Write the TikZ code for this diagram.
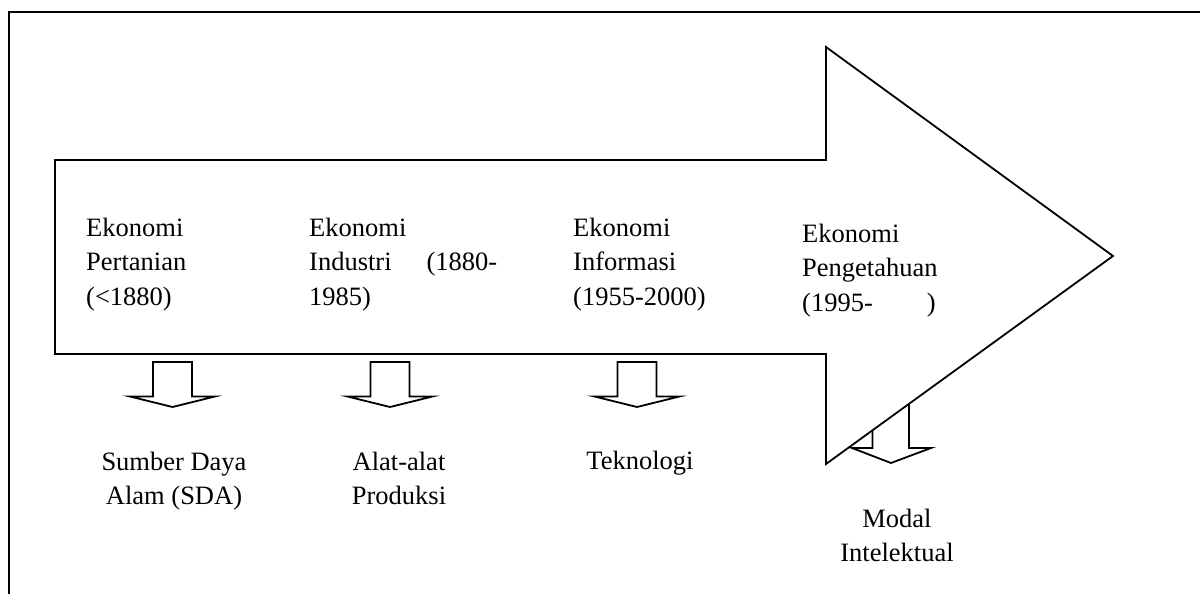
\documentclass[tikz,border=0pt]{standalone}
\usepackage{fontspec}
\setmainfont{Liberation Serif}
\begin{document}
\begin{tikzpicture}[x=1pt,y=-1pt,
  shapeline/.style={draw=black,line width=1.8pt,line join=miter,fill=white},
  frameline/.style={draw=black,line width=2.2pt},
  lbl/.style={inner sep=0pt,font=\fontsize{26.5}{34.5}\selectfont},
  darrow/.pic={\draw[shapeline] (-19.5,0) -- (19.5,0) -- (19.5,34.5) -- (42.5,34.5) -- (0,45) -- (-42.5,34.5) -- (-19.5,34.5) -- cycle;}]
\useasboundingbox (0,0) rectangle (1200,594);
\fill[white] (0,0) rectangle (1200,594);
% frame
\draw[frameline] (9,600) -- (9,12) -- (1210,12);
% small arrows
\pic at (172.5,362) {darrow};
\pic at (390,362) {darrow};
\pic at (637,362) {darrow};
% arrow behind the big arrow
\draw[shapeline] (872.5,340) -- (909,340) -- (909,448) -- (931,448) -- (891,463) -- (852,448) -- (872.5,448) -- cycle;
% big arrow
\draw[shapeline] (55,160) -- (826,160) -- (826,47) -- (1113,256) -- (826,464) -- (826,354) -- (55,354) -- cycle;
% texts
\node[lbl,anchor=base west] (c1) at (86,236) {\begin{tabular}[t]{@{}l@{}}Ekonomi\\Pertanian\\(<1880)\end{tabular}};
\node[lbl,anchor=base west] (c2) at (309,236) {\begin{tabular}[t]{@{}l@{}}Ekonomi\\Industri\hspace{35pt}(1880-\\1985)\end{tabular}};
\node[lbl,anchor=base west] (c3) at (573,236) {\begin{tabular}[t]{@{}l@{}}Ekonomi\\Informasi\\(1955-2000)\end{tabular}};
\node[lbl,anchor=base west] (c4) at (802,242) {\begin{tabular}[t]{@{}l@{}}Ekonomi\\Pengetahuan\\(1995-\hspace{54pt})\end{tabular}};
\node[lbl,anchor=base] (r1) at (174,470) {\begin{tabular}[t]{@{}c@{}}Sumber Daya\\Alam (SDA)\end{tabular}};
\node[lbl,anchor=base] (r2) at (399,470) {\begin{tabular}[t]{@{}c@{}}Alat-alat\\Produksi\end{tabular}};
\node[lbl,anchor=base] (r3) at (640,469) {Teknologi};
\node[lbl,anchor=base] (r4) at (897,527) {\begin{tabular}[t]{@{}c@{}}Modal\\Intelektual\end{tabular}};
\end{tikzpicture}
\end{document}
